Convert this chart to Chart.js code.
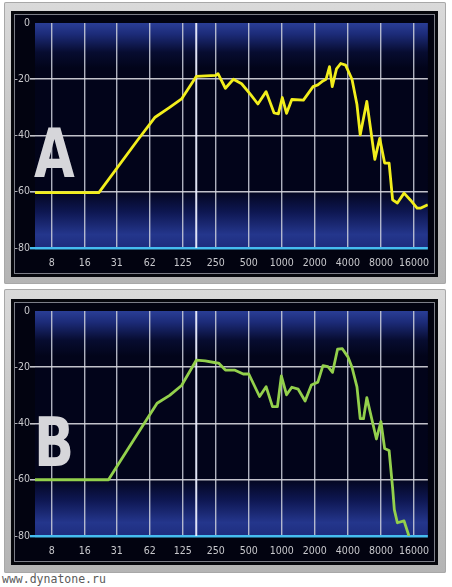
<!DOCTYPE html>
<html>
<head>
<meta charset="utf-8">
<script src="https://cdn.jsdelivr.net/npm/chart.js@4.4.1/dist/chart.umd.min.js"></script>
<style>
  body { margin: 0; background: #fff; width: 452px; height: 587px; position: relative; overflow: hidden; }
  .frame { position: absolute; left: 4px; width: 442px; background: linear-gradient(#dadada, #c4c4c4 50%, #b4b4b4); border-radius: 2px;
           box-shadow: inset 0 0 0 1px #a8a8a8; }
  .screen { position: absolute; left: 7px; width: 427px; height: 266px; background: #020310;
            box-shadow: inset 0 0 0 3px #06070c, inset 0 0 0 4px #7c7e88; }
  .screen canvas { position: absolute; left: 0; top: 0; }
  .letter { position: absolute; left: 34px; font-family: "DejaVu Sans Condensed", "DejaVu Sans", sans-serif; font-weight: bold;
            font-size: 68px; line-height: 68px; color: #d6d6da; transform: scaleX(0.86); transform-origin: left top; }
  .site { position: absolute; left: 2px; top: 572px; font-family: "DejaVu Sans Mono", monospace; font-size: 11.5px; color: #5a5a5a; }
</style>
</head>
<body>
<div class="frame" style="top:2px;height:282px">
  <div class="screen" style="top:9px"><canvas id="chartA" width="427" height="266"></canvas></div>
</div>
<div class="frame" style="top:289px;height:284px">
  <div class="screen" style="top:10px"><canvas id="chartB" width="427" height="266"></canvas></div>
</div>
<div class="letter" style="top:120px">A</div>
<div class="letter" style="top:409px">B</div>
<div class="site">www.dynatone.ru</div>

<script>
// Frequency axis ticks (Hz) and their printed labels
const tickHz = [8, 16, 31.25, 62.5, 125, 250, 500, 1000, 2000, 4000, 8000, 16000];
const tickLabels = ['8', '16', '31', '62', '125', '250', '500', '1000', '2000', '4000', '8000', '16000'];
const dbTicks = [0, -20, -40, -60, -80];
const cursorHz = 166;

// Spectrum A (yellow)
const aHz = [5.63, 21.5, 48.6, 70, 95, 122, 166, 250, 262, 306, 362, 430, 520, 605, 719, 850, 930, 1010, 1105, 1233, 1573,
  1927, 2130, 2370, 2530, 2720, 2880, 3150, 3440, 3810, 4360, 4840, 5180, 5950, 7040, 7800, 8650, 9500, 10230, 11300,
  13000, 14900, 17100, 18500, 21400];
const aDb = [-60.3, -60.3, -41.6, -33.5, -30, -27, -19, -18.6, -18, -23.2, -20, -21.6, -25.5, -28.8, -24.4, -32, -32.3, -26.5,
  -32.1, -27.2, -27.4, -22.6, -22, -20.6, -20, -15.5, -22.6, -16.3, -14.4, -15, -20, -29, -39.8, -27.9, -48.5, -41, -49.8,
  -49.8, -62.9, -64, -60.5, -63, -65.8, -65.8, -64.6];

// Spectrum B (green)
const bHz = [5.63, 26.3, 55.8, 73, 95, 122, 166, 200, 250, 265, 306, 370, 445, 500, 627, 719, 822, 912, 990, 1105, 1233, 1410,
  1630, 1860, 2130, 2370, 2630, 2900, 3220, 3560, 4000, 4360, 4840, 5180, 5550, 5950, 7280, 8000, 8650, 9500, 10230, 10600,
  11300, 13000, 14400];
const bDb = [-60, -60, -39.9, -32.8, -30, -26.5, -17.5, -17.7, -18.4, -18.5, -21, -21, -22.4, -22.4, -30.4, -26.9, -34, -34,
  -23.1, -29.8, -27.1, -27.8, -32, -26.3, -25.3, -19.4, -19.8, -21.8, -13.6, -13.4, -16.3, -20, -27, -38.3, -38.3, -30.8,
  -45.5, -39.3, -48.9, -49.6, -63, -70.6, -75.3, -74.6, -80];

const labelFont = { family: '"DejaVu Sans Condensed", sans-serif', size: 10.5 };

// screen backdrop: blue bands at top and bottom of the plot
const screenBg = {
  id: 'screenBg',
  beforeDraw(chart) {
    const { ctx, chartArea: a } = chart;
    const g = ctx.createLinearGradient(0, a.top, 0, a.bottom);
    g.addColorStop(0, '#2a3e96');
    g.addColorStop(0.05, '#1c2b78');
    g.addColorStop(0.13, '#070c30');
    g.addColorStop(0.2, '#02041a');
    g.addColorStop(0.74, '#02041a');
    g.addColorStop(0.84, '#0e1752');
    g.addColorStop(0.94, '#24368c');
    g.addColorStop(1, '#1e2d7e');
    ctx.save();
    ctx.fillStyle = g;
    ctx.fillRect(a.left, a.top, a.right - a.left, a.bottom - a.top);
    ctx.restore();
  },
  beforeDatasetsDraw(chart) {
    const { ctx, chartArea: a, scales } = chart;
    const x = scales.x.getPixelForValue(cursorHz);
    ctx.save();
    ctx.strokeStyle = 'rgba(235,238,255,0.95)';
    ctx.lineWidth = 2;
    ctx.beginPath();
    ctx.moveTo(x, a.top);
    ctx.lineTo(x, a.bottom);
    ctx.stroke();
    ctx.restore();
  }
};

function makeChart(id, hz, db, color) {
  return new Chart(document.getElementById(id), {
    type: 'line',
    data: {
      datasets: [{
        data: hz.map((f, i) => ({ x: f, y: db[i] })),
        borderColor: color,
        borderWidth: 2.8,
        pointRadius: 0,
        tension: 0,
        borderJoinStyle: 'round'
      }]
    },
    options: {
      responsive: false,
      animation: false,
      layout: { padding: { top: 12, right: 1, left: 0, bottom: 0 } },
      plugins: { legend: { display: false }, tooltip: { enabled: false } },
      scales: {
        x: {
          type: 'logarithmic',
          min: 5.63,
          max: 21430,
          afterBuildTicks: s => { s.ticks = tickHz.map(v => ({ value: v })); },
          afterFit: s => { s.height = 29; },
          border: { display: false },
          grid: { color: 'rgba(205,208,220,0.85)', lineWidth: 1.4, drawTicks: false },
          ticks: {
            autoSkip: false, maxRotation: 0, padding: 9, color: '#c8c8cc', font: labelFont,
            callback: (v, i) => tickLabels[i]
          }
        },
        y: {
          min: -80,
          max: 0,
          afterBuildTicks: s => { s.ticks = dbTicks.map(v => ({ value: v })); },
          afterFit: s => { s.width = 24; },
          border: { display: false },
          grid: {
            tickLength: 5,
            lineWidth: c => (c.tick && c.tick.value === -80 ? 2.4 : 1.6),
            color: c => (c.tick && c.tick.value === -80 ? '#45bdf0' : (c.tick && c.tick.value === 0 ? 'rgba(0,0,0,0)' : 'rgba(215,215,222,0.9)'))
          },
          ticks: { padding: 0, color: '#c8c8cc', font: labelFont }
        }
      }
    },
    plugins: [screenBg]
  });
}

makeChart('chartA', aHz, aDb, '#f2ee1c');
makeChart('chartB', bHz, bDb, '#93d04c');
</script>
</body>
</html>
